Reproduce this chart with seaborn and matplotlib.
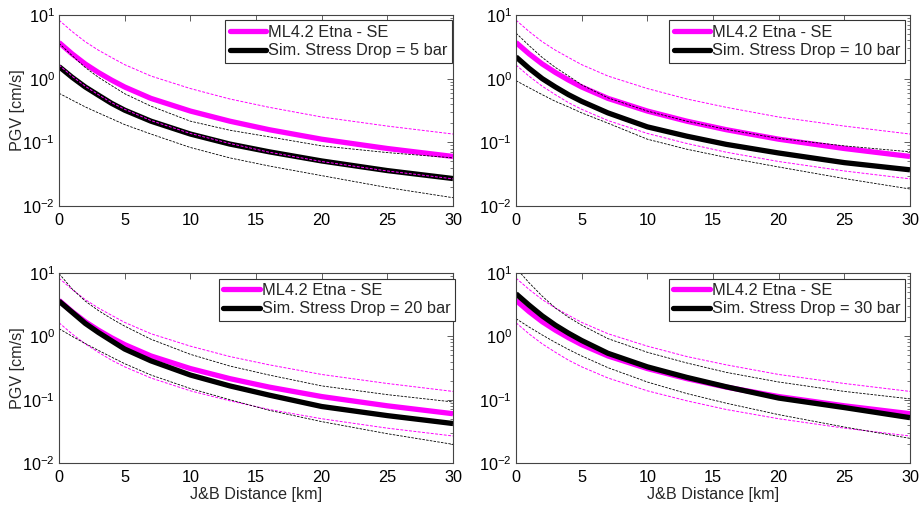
import matplotlib
matplotlib.use("Agg")
import matplotlib.pyplot as plt
import seaborn as sns
from matplotlib.lines import Line2D
from matplotlib.ticker import LogLocator, NullFormatter, FixedLocator

# ---------------- data ----------------
distance = [0, 1, 2, 3, 4, 5, 7, 10, 13, 16, 20, 25, 30]

# ML4.2 Etna - SE prediction (mean, +1 sigma, -1 sigma)
etna_mean = [3.7, 2.45, 1.7, 1.25, 0.95, 0.74, 0.49, 0.31, 0.215, 0.158, 0.112, 0.080, 0.060]
etna_plus = [8.3, 5.5, 3.8, 2.8, 2.15, 1.66, 1.1, 0.70, 0.48, 0.355, 0.25, 0.18, 0.135]
etna_minus = [1.64, 1.09, 0.76, 0.56, 0.42, 0.33, 0.22, 0.138, 0.096, 0.070, 0.050, 0.0355, 0.0267]

stress_drops = [5, 10, 20, 30]

sim_mean = {
    5:  [1.55, 1.05, 0.74, 0.55, 0.41, 0.32, 0.215, 0.135, 0.094, 0.071, 0.051, 0.036, 0.027],
    10: [2.2, 1.45, 1.0, 0.74, 0.56, 0.44, 0.29, 0.175, 0.125, 0.093, 0.068, 0.048, 0.037],
    20: [3.6, 2.4, 1.6, 1.15, 0.85, 0.63, 0.41, 0.245, 0.165, 0.118, 0.078, 0.056, 0.042],
    30: [4.7, 3.1, 2.1, 1.5, 1.12, 0.86, 0.54, 0.33, 0.225, 0.16, 0.106, 0.075, 0.052],
}
sim_plus = {
    5:  [3.6, 2.3, 1.5, 1.05, 0.78, 0.58, 0.37, 0.215, 0.155, 0.122, 0.088, 0.069, 0.057],
    10: [5.2, 3.3, 2.15, 1.5, 1.1, 0.80, 0.50, 0.31, 0.215, 0.16, 0.115, 0.088, 0.071],
    20: [9.8, 5.6, 3.6, 2.55, 1.9, 1.45, 0.9, 0.52, 0.34, 0.245, 0.165, 0.12, 0.092],
    30: [12.0, 7.0, 4.3, 2.8, 2.0, 1.5, 0.92, 0.56, 0.38, 0.27, 0.19, 0.135, 0.103],
}
sim_minus = {
    5:  [0.59, 0.46, 0.36, 0.29, 0.235, 0.19, 0.135, 0.083, 0.057, 0.0425, 0.030, 0.0195, 0.0135],
    10: [0.93, 0.72, 0.56, 0.44, 0.36, 0.29, 0.20, 0.112, 0.078, 0.058, 0.041, 0.027, 0.0185],
    20: [1.32, 1.0, 0.77, 0.6, 0.47, 0.37, 0.245, 0.15, 0.10, 0.068, 0.045, 0.029, 0.0197],
    30: [1.9, 1.4, 1.05, 0.8, 0.62, 0.49, 0.32, 0.19, 0.125, 0.088, 0.058, 0.037, 0.0245],
}

x_ticks = [0, 5, 10, 15, 20, 25, 30]
etna_label = "ML4.2 Etna - SE"
xlabel_text = "J&B Distance [km]"
ylabel_text = "PGV [cm/s]"

# ---------------- style ----------------
sns.set_style("white")
plt.rcParams["font.family"] = ["Liberation Sans", "DejaVu Sans"]
plt.rcParams["mathtext.default"] = "regular"
plt.rcParams["font.size"] = 11.5

MAGENTA = "#ff00ff"
FRAME = "#444444"
W, H = 924, 505

fig = plt.figure(figsize=(W / 100, H / 100), dpi=100)

# pixel boxes (left, top, right, bottom)
boxes = [(59, 15, 453, 206), (516, 15, 910, 206),
         (59, 273, 453, 463), (516, 273, 910, 463)]
# legend upper-right corner in pixels
legend_corner = [(452, 20.5), (905, 20.5), (455, 278.5), (905, 278.5)]

dash = (0, (3, 1.5))

for i, sd in enumerate(stress_drops):
    l, t, r, b = boxes[i]
    ax = fig.add_axes([l / W, 1 - b / H, (r - l) / W, (b - t) / H])
    ax.set_yscale("log")

    sns.lineplot(x=distance, y=etna_mean, ax=ax, color=MAGENTA, lw=3.8,
                 solid_capstyle="butt")
    sns.lineplot(x=distance, y=sim_mean[sd], ax=ax, color="black", lw=3.8,
                 solid_capstyle="butt")
    sns.lineplot(x=distance, y=etna_plus, ax=ax, color=MAGENTA, lw=0.7, linestyle=dash)
    sns.lineplot(x=distance, y=etna_minus, ax=ax, color=MAGENTA, lw=0.7, linestyle=dash)
    sns.lineplot(x=distance, y=sim_plus[sd], ax=ax, color="black", lw=0.6, linestyle=dash)
    sns.lineplot(x=distance, y=sim_minus[sd], ax=ax, color="black", lw=0.6, linestyle=dash)

    ax.set_xlim(0, 30)
    ax.set_ylim(1e-2, 1e1)
    ax.xaxis.set_major_locator(FixedLocator(x_ticks))
    ax.set_xticklabels([str(v) for v in x_ticks])
    ax.yaxis.set_major_locator(LogLocator(base=10, numticks=10))
    ax.yaxis.set_minor_locator(LogLocator(base=10, subs=range(2, 10), numticks=20))
    ax.yaxis.set_minor_formatter(NullFormatter())

    ax.tick_params(which="both", direction="in", top=True, right=True,
                   color=FRAME, labelsize=11.7, labelcolor="black")
    ax.tick_params(which="major", length=4, width=0.6)
    ax.tick_params(which="minor", length=2, width=0.5)
    ax.tick_params(axis="x", pad=5)
    ax.tick_params(axis="y", pad=3)
    for s in ax.spines.values():
        s.set_visible(True)
        s.set_color(FRAME)
        s.set_linewidth(0.8)

    if i % 2 == 0:
        ax.set_ylabel(ylabel_text, fontsize=11.6, labelpad=-2)
    else:
        ax.set_ylabel("")
    if i >= 2:
        ax.set_xlabel(xlabel_text, fontsize=11.6, labelpad=1.5)
    else:
        ax.set_xlabel("")

    handles = [Line2D([], [], color=MAGENTA, lw=3.8),
               Line2D([], [], color="black", lw=3.8)]
    labels = [etna_label, f"Sim. Stress Drop = {sd} bar"]
    cx, cy = legend_corner[i]
    anchor = ((cx - l) / (r - l), 1 - (cy - t) / (b - t))
    leg = ax.legend(handles, labels, loc="upper right",
                    bbox_to_anchor=anchor, borderaxespad=0,
                    frameon=True, fancybox=False, framealpha=1,
                    edgecolor="#333333", fontsize=11.8, handlelength=2.25,
                    handletextpad=0.1, labelspacing=0.2, borderpad=0.28)
    leg.get_frame().set_linewidth(0.8)

fig.savefig("out.png", dpi=100)
